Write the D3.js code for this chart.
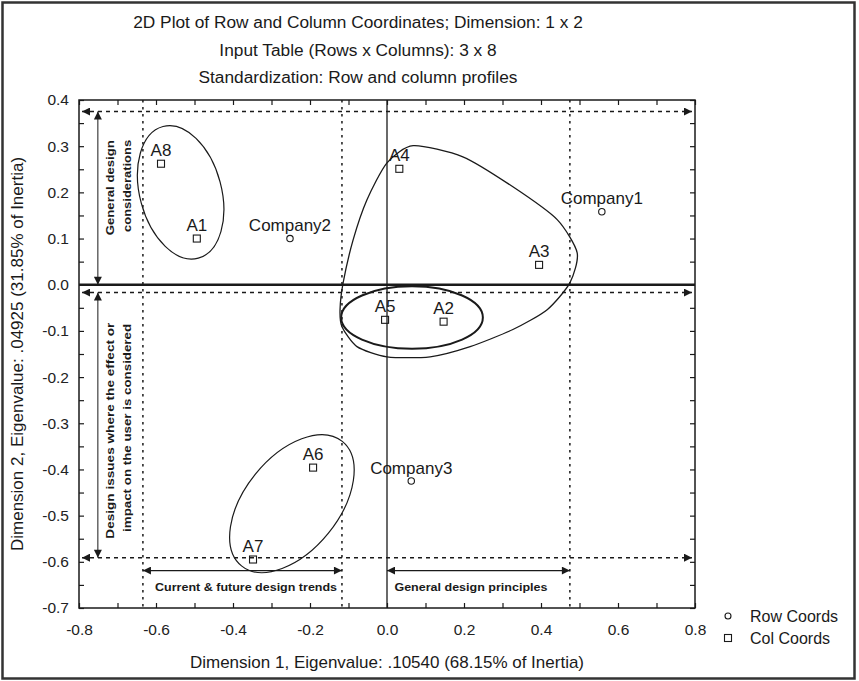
<!DOCTYPE html>
<html>
<head>
<meta charset="utf-8">
<script src="https://cdn.jsdelivr.net/npm/d3@7"></script>
<style>
  body { margin: 0; background: #fff; }
  svg { display: block; font-family: "Liberation Sans", Arial, sans-serif; }
</style>
</head>
<body>
<div id="chart"></div>
<script>
const titleLines = [
  "2D Plot of Row and Column Coordinates; Dimension: 1 x 2",
  "Input Table (Rows x Columns): 3 x 8",
  "Standardization: Row and column profiles"
];
const xTitle = "Dimension 1, Eigenvalue: .10540 (68.15% of Inertia)";
const yTitle = "Dimension 2, Eigenvalue: .04925 (31.85% of Inertia)";

const xTicks = [-0.8, -0.6, -0.4, -0.2, 0.0, 0.2, 0.4, 0.6, 0.8];
const xTickLabels = ["-0.8", "-0.6", "-0.4", "-0.2", "0.0", "0.2", "0.4", "0.6", "0.8"];
const yTicks = [0.4, 0.3, 0.2, 0.1, 0.0, -0.1, -0.2, -0.3, -0.4, -0.5, -0.6, -0.7];
const yTickLabels = ["0.4", "0.3", "0.2", "0.1", "0.0", "-0.1", "-0.2", "-0.3", "-0.4", "-0.5", "-0.6", "-0.7"];

// row coordinates (companies)
const rowLabels = ["Company1", "Company2", "Company3"];
const rowX = [0.558, -0.252, 0.063];
const rowY = [0.158, 0.100, -0.425];

// column coordinates (attributes)
const colLabels = ["A1", "A2", "A3", "A4", "A5", "A6", "A7", "A8"];
const colX = [-0.494, 0.147, 0.395, 0.032, -0.005, -0.192, -0.348, -0.587];
const colY = [0.100, -0.080, 0.043, 0.251, -0.076, -0.396, -0.595, 0.262];

const legendLabels = ["Row Coords", "Col Coords"];

// hand drawn groupings
const ellipses = [
  { cx: -0.536, cy: 0.200, rx: 0.177, ry: 0.106, rot: 75 },
  { cx: 0.065, cy: -0.071, rx: 0.184, ry: 0.081, rot: 0 },
  { cx: -0.247, cy: -0.474, rx: 0.208, ry: 0.122, rot: -51 }
];
const bigRegion = [
  [0, 0.264], [0.068, 0.301], [0.197, 0.277], [0.327, 0.212], [0.442, 0.141],
  [0.494, 0.069], [0.475, 0.004], [0.416, -0.054], [0.327, -0.097], [0.216, -0.134],
  [0.112, -0.156], [0, -0.156], [-0.078, -0.134], [-0.117, -0.091], [-0.122, -0.054],
  [-0.114, 0.004], [-0.088, 0.097], [-0.052, 0.184]
];

// dashed guide lines and double arrows
const guideY = [0.375, -0.017, -0.591];
const guideX = [-0.634, -0.117, 0.475];
const arrowsV = [[-0.751, 0.375, 0.0], [-0.751, -0.017, -0.591]];
const arrowsH = [[-0.619, -0.634, -0.117], [-0.619, 0.0, 0.475]];

const notes = [
  { text: "General design", x: -0.719, y: 0.210, rotate: true, len: 95 },
  { text: "considerations", x: -0.675, y: 0.214, rotate: true, len: 92 },
  { text: "Design issues where the effect or", x: -0.719, y: -0.316, rotate: true, len: 216 },
  { text: "impact on the user is considered", x: -0.675, y: -0.310, rotate: true, len: 208 },
  { text: "Current & future design trends", x: -0.366, y: -0.654, rotate: false, len: 182 },
  { text: "General design principles", x: 0.218, y: -0.654, rotate: false, len: 153 }
];

const width = 859, height = 681;
const margin = { top: 100, right: 164, bottom: 73, left: 79 };
const ink = "#1a1a1a";

const svg = d3.select("#chart").append("svg")
  .attr("width", width)
  .attr("height", height);

const x = d3.scaleLinear().domain([-0.8, 0.8]).range([margin.left, width - margin.right]);
const y = d3.scaleLinear().domain([-0.7, 0.4]).range([height - margin.bottom, margin.top]);
const pxPerUnit = x(1) - x(0);

// outer frame
svg.append("rect")
  .attr("x", 2.5).attr("y", 2.5)
  .attr("width", width - 7).attr("height", height - 5)
  .attr("fill", "none").attr("stroke", "#333").attr("stroke-width", 2.5);

const defs = svg.append("defs");
defs.append("marker")
  .attr("id", "arrow")
  .attr("viewBox", "0 0 10 10")
  .attr("refX", 10).attr("refY", 5)
  .attr("markerUnits", "userSpaceOnUse")
  .attr("markerWidth", 9).attr("markerHeight", 8)
  .attr("orient", "auto-start-reverse")
  .append("path")
  .attr("d", "M0,0L10,5L0,10z")
  .attr("fill", ink);

// titles
svg.append("g").selectAll("text")
  .data(titleLines)
  .join("text")
  .attr("x", 358)
  .attr("y", (d, i) => 28 + i * 27.5)
  .attr("text-anchor", "middle")
  .attr("font-size", 17.3)
  .attr("fill", ink)
  .text(d => d);

// inward ticks on all four sides
const xMinor = d3.range(-8, 9).map(i => i / 10);
const yMinor = d3.range(-14, 9).map(i => i / 20);

function tickStyle(g) {
  g.select(".domain").remove();
  g.selectAll(".tick line").attr("stroke", ink).attr("stroke-width", 1.2);
}

svg.append("g")
  .attr("transform", `translate(0,${y(-0.7)})`)
  .call(d3.axisBottom(x).tickValues(xMinor).tickSize(-5).tickFormat(""))
  .call(tickStyle);
svg.append("g")
  .attr("transform", `translate(0,${y(0.4)})`)
  .call(d3.axisTop(x).tickValues(xMinor).tickSize(-5).tickFormat(""))
  .call(tickStyle);
svg.append("g")
  .attr("transform", `translate(${x(-0.8)},0)`)
  .call(d3.axisLeft(y).tickValues(yMinor).tickSize(-5).tickFormat(""))
  .call(tickStyle);
svg.append("g")
  .attr("transform", `translate(${x(0.8)},0)`)
  .call(d3.axisRight(y).tickValues(yMinor).tickSize(-5).tickFormat(""))
  .call(tickStyle);

// tick labels
svg.append("g")
  .attr("transform", `translate(0,${y(-0.7)})`)
  .call(d3.axisBottom(x).tickValues(xTicks).tickSize(0).tickPadding(16).tickFormat((d, i) => xTickLabels[i]))
  .call(g => g.select(".domain").remove())
  .call(g => g.selectAll("text").attr("font-size", 15.5).attr("fill", "#222").attr("font-family", null));
svg.append("g")
  .attr("transform", `translate(${x(-0.8)},0)`)
  .call(d3.axisLeft(y).tickValues(yTicks).tickSize(0).tickPadding(10).tickFormat((d, i) => yTickLabels[i]))
  .call(g => g.select(".domain").remove())
  .call(g => g.selectAll("text").attr("font-size", 15.5).attr("fill", "#222").attr("font-family", null));

// axis titles
svg.append("text")
  .attr("x", x(0))
  .attr("y", y(-0.7) + 60)
  .attr("text-anchor", "middle")
  .attr("font-size", 17)
  .attr("fill", ink)
  .text(xTitle);
svg.append("text")
  .attr("transform", `translate(${x(-0.8) - 56},${(y(0.4) + y(-0.7)) / 2}) rotate(-90)`)
  .attr("text-anchor", "middle")
  .attr("font-size", 17)
  .attr("fill", ink)
  .text(yTitle);

// guide lines
const guides = svg.append("g").attr("stroke", ink).attr("fill", "none");
guides.selectAll(".gx")
  .data(guideX)
  .join("line")
  .attr("x1", d => x(d)).attr("x2", d => x(d))
  .attr("y1", y(0.4)).attr("y2", y(-0.7))
  .attr("stroke-width", 1.5)
  .attr("stroke-dasharray", "2.5,4.5");
guides.selectAll(".gy")
  .data(guideY)
  .join("line")
  .attr("x1", x(-0.8) + 3).attr("x2", x(0.8) - 3)
  .attr("y1", d => y(d)).attr("y2", d => y(d))
  .attr("stroke-width", 1.5)
  .attr("stroke-dasharray", "4,4")
  .attr("marker-start", "url(#arrow)")
  .attr("marker-end", "url(#arrow)");
guides.selectAll(".av")
  .data(arrowsV)
  .join("line")
  .attr("x1", d => x(d[0])).attr("x2", d => x(d[0]))
  .attr("y1", d => y(d[1])).attr("y2", d => y(d[2]))
  .attr("stroke-width", 1)
  .attr("marker-start", "url(#arrow)")
  .attr("marker-end", "url(#arrow)");
guides.selectAll(".ah")
  .data(arrowsH)
  .join("line")
  .attr("x1", d => x(d[1])).attr("x2", d => x(d[2]))
  .attr("y1", d => y(d[0])).attr("y2", d => y(d[0]))
  .attr("stroke-width", 1.3)
  .attr("marker-start", "url(#arrow)")
  .attr("marker-end", "url(#arrow)");

// plot frame and zero lines
svg.append("rect")
  .attr("x", x(-0.8)).attr("y", y(0.4))
  .attr("width", x(0.8) - x(-0.8)).attr("height", y(-0.7) - y(0.4))
  .attr("fill", "none").attr("stroke", ink).attr("stroke-width", 1.5);
svg.append("line")
  .attr("x1", x(-0.8)).attr("x2", x(0.8))
  .attr("y1", y(0)).attr("y2", y(0))
  .attr("stroke", ink).attr("stroke-width", 2.5);
svg.append("line")
  .attr("x1", x(0)).attr("x2", x(0))
  .attr("y1", y(0.4)).attr("y2", y(-0.7))
  .attr("stroke", ink).attr("stroke-width", 1.3);

// groupings
svg.append("g").selectAll("ellipse")
  .data(ellipses)
  .join("ellipse")
  .attr("transform", d => `translate(${x(d.cx)},${y(d.cy)}) rotate(${d.rot})`)
  .attr("rx", d => d.rx * pxPerUnit)
  .attr("ry", d => d.ry * pxPerUnit)
  .attr("fill", "none")
  .attr("stroke", ink)
  .attr("stroke-width", (d, i) => i === 1 ? 2 : 1.2);

svg.append("path")
  .datum(bigRegion)
  .attr("d", d3.line().x(d => x(d[0])).y(d => y(d[1])).curve(d3.curveCardinalClosed.tension(0.3)))
  .attr("fill", "none")
  .attr("stroke", ink)
  .attr("stroke-width", 1.3);

// notes
svg.append("g").selectAll("text")
  .data(notes)
  .join("text")
  .attr("transform", d => `translate(${x(d.x)},${y(d.y)})` + (d.rotate ? " rotate(-90)" : ""))
  .attr("text-anchor", "middle")
  .attr("dominant-baseline", "central")
  .attr("font-size", 10.5)
  .attr("font-weight", "bold")
  .attr("fill", ink)
  .attr("textLength", d => d.len)
  .attr("lengthAdjust", "spacingAndGlyphs")
  .text(d => d.text);

// points
const rows = rowLabels.map((name, i) => ({ name, x: rowX[i], y: rowY[i] }));
const cols = colLabels.map((name, i) => ({ name, x: colX[i], y: colY[i] }));

svg.append("g").selectAll("circle")
  .data(rows)
  .join("circle")
  .attr("cx", d => x(d.x)).attr("cy", d => y(d.y))
  .attr("r", 3.2)
  .attr("fill", "none").attr("stroke", ink).attr("stroke-width", 1.1);

svg.append("g").selectAll("rect")
  .data(cols)
  .join("rect")
  .attr("x", d => x(d.x) - 3.5).attr("y", d => y(d.y) - 3.5)
  .attr("width", 7).attr("height", 7)
  .attr("fill", "none").attr("stroke", ink).attr("stroke-width", 1.1);

svg.append("g").selectAll("text")
  .data(rows.concat(cols))
  .join("text")
  .attr("x", d => x(d.x))
  .attr("y", d => y(d.y) - 7.5)
  .attr("text-anchor", "middle")
  .attr("font-size", 17)
  .attr("fill", ink)
  .text(d => d.name);

// legend
const legend = svg.append("g")
  .attr("transform", `translate(${x(0.8) + 33},${y(-0.7) + 8})`);
legend.append("circle")
  .attr("cx", 0).attr("cy", 0).attr("r", 3)
  .attr("fill", "none").attr("stroke", ink).attr("stroke-width", 1.1);
legend.append("rect")
  .attr("x", -3.5).attr("y", 18.5).attr("width", 7).attr("height", 7)
  .attr("fill", "none").attr("stroke", ink).attr("stroke-width", 1.1);
legend.selectAll("text")
  .data(legendLabels)
  .join("text")
  .attr("x", 22)
  .attr("y", (d, i) => 6 + i * 22)
  .attr("font-size", 16)
  .attr("fill", ink)
  .text(d => d);
</script>
</body>
</html>
